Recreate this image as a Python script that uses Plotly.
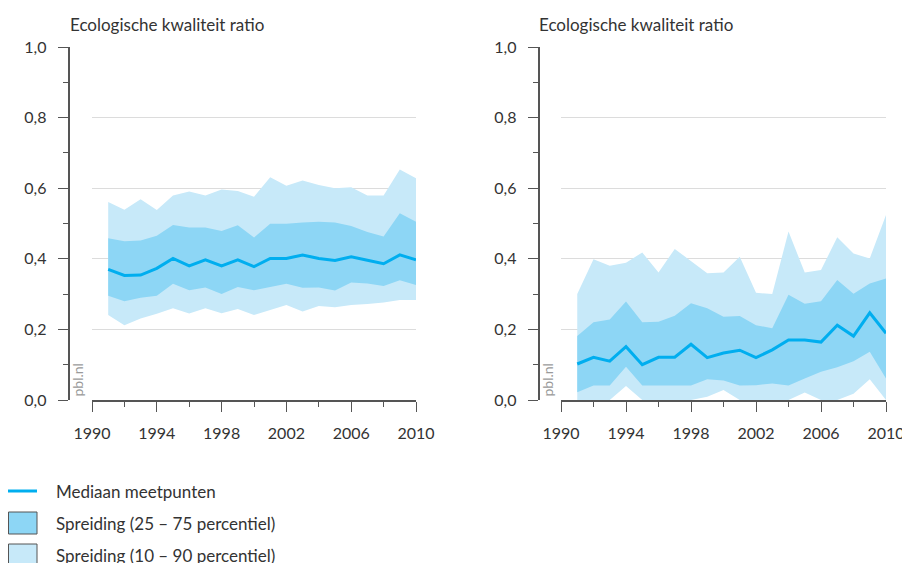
import plotly.graph_objects as go

# Years of measurement
years = list(range(1991, 2011))

# Left panel: percentiles of the ecological quality ratio
p10_left = [0.241, 0.212, 0.231, 0.244, 0.260, 0.245, 0.260, 0.246, 0.258, 0.241,
            0.255, 0.269, 0.251, 0.266, 0.263, 0.269, 0.272, 0.276, 0.283, 0.283]
p25_left = [0.295, 0.280, 0.290, 0.295, 0.329, 0.311, 0.319, 0.300, 0.320, 0.311,
            0.320, 0.329, 0.318, 0.319, 0.310, 0.333, 0.330, 0.323, 0.339, 0.326]
median_left = [0.370, 0.353, 0.354, 0.373, 0.401, 0.380, 0.397, 0.380, 0.397, 0.378,
               0.401, 0.401, 0.411, 0.401, 0.395, 0.406, 0.396, 0.386, 0.411, 0.397]
p75_left = [0.458, 0.450, 0.452, 0.465, 0.496, 0.489, 0.489, 0.479, 0.495, 0.460,
            0.499, 0.499, 0.503, 0.505, 0.503, 0.493, 0.476, 0.463, 0.529, 0.505]
p90_left = [0.561, 0.539, 0.569, 0.538, 0.579, 0.591, 0.579, 0.596, 0.592, 0.576,
            0.631, 0.607, 0.622, 0.609, 0.600, 0.603, 0.579, 0.579, 0.653, 0.628]

# Right panel
p10_right = [0.000, 0.000, 0.000, 0.040, 0.000, 0.000, 0.000, 0.000, 0.009, 0.028,
             0.000, 0.000, 0.000, 0.000, 0.021, 0.000, 0.000, 0.018, 0.059, 0.000]
p25_right = [0.022, 0.041, 0.041, 0.094, 0.041, 0.041, 0.042, 0.041, 0.059, 0.055,
             0.041, 0.042, 0.047, 0.041, 0.061, 0.080, 0.093, 0.110, 0.137, 0.061]
median_right = [0.102, 0.121, 0.110, 0.151, 0.100, 0.121, 0.121, 0.158, 0.120, 0.133,
                0.141, 0.120, 0.142, 0.170, 0.170, 0.164, 0.212, 0.181, 0.247, 0.189]
p75_right = [0.181, 0.220, 0.228, 0.279, 0.220, 0.222, 0.239, 0.274, 0.260, 0.236,
             0.238, 0.212, 0.203, 0.298, 0.273, 0.280, 0.340, 0.301, 0.330, 0.344]
p90_right = [0.300, 0.399, 0.380, 0.389, 0.418, 0.361, 0.428, 0.394, 0.359, 0.361,
             0.406, 0.304, 0.300, 0.477, 0.361, 0.368, 0.461, 0.415, 0.401, 0.524]

# Text
axis_title = "Ecologische kwaliteit ratio"
legend_labels = ["Mediaan meetpunten",
                 "Spreiding (25 \u2013 75 percentiel)",
                 "Spreiding (10 \u2013 90 percentiel)"]
source_label = "pbl.nl"

# Styling
W, H = 902, 563
FONT = "Lato"
TEXT = "#333333"
AXIS = "#555555"
GRID = "#dcdcdc"
MEDIAN = "#00aeef"
BAND_IQR = "#8dd6f5"
BAND_WIDE = "#c7e9f9"


def px(x):
    return x / W


def py(y):
    return 1 - y / H


fig = go.Figure()


def add_panel(xa, ya, p10, p25, med, p75, p90):
    common = dict(x=years, xaxis=xa, yaxis=ya, mode="lines",
                  showlegend=False, hoverinfo="skip")
    fig.add_trace(go.Scatter(y=p10, line=dict(width=0, color=BAND_WIDE), **common))
    fig.add_trace(go.Scatter(y=p90, fill="tonexty", fillcolor=BAND_WIDE,
                             line=dict(width=0, color=BAND_WIDE), **common))
    fig.add_trace(go.Scatter(y=p25, line=dict(width=0, color=BAND_IQR), **common))
    fig.add_trace(go.Scatter(y=p75, fill="tonexty", fillcolor=BAND_IQR,
                             line=dict(width=0, color=BAND_IQR), **common))
    fig.add_trace(go.Scatter(y=med, line=dict(width=3, color=MEDIAN), **common))


add_panel("x", "y", p10_left, p25_left, median_left, p75_left, p90_left)
add_panel("x2", "y2", p10_right, p25_right, median_right, p75_right, p90_right)

y_dom = [py(400), py(47)]


def xaxis_style(domain, anchor):
    return dict(domain=domain, anchor=anchor, range=[1990, 2010],
                tickmode="linear", tick0=1990, dtick=4,
                ticks="outside", ticklen=10, tickwidth=1.3, tickcolor=AXIS,
                minor=dict(dtick=2, tick0=1990, ticks="outside", ticklen=5,
                           tickwidth=1.3, tickcolor=AXIS, showgrid=False),
                showline=True, linecolor=AXIS, linewidth=1.5,
                showgrid=False, zeroline=False, ticklabelstandoff=8,
                ticklabeloverflow="allow", automargin=False,
                tickfont=dict(family=FONT, size=16, color=TEXT))


def yaxis_style(position):
    return dict(domain=y_dom, anchor="free", position=position, range=[0, 1],
                tickmode="linear", tick0=0, dtick=0.2, tickformat=".1f",
                ticks="outside", ticklen=10, tickwidth=1.3, tickcolor=AXIS,
                minor=dict(dtick=0.1, tick0=0, ticks="outside", ticklen=5,
                           tickwidth=1.3, tickcolor=AXIS, showgrid=False),
                showline=True, linecolor=AXIS, linewidth=1.5,
                showgrid=True, gridcolor=GRID, gridwidth=1, zeroline=False,
                ticklabelstandoff=8, automargin=False,
                tickfont=dict(family=FONT, size=16, color=TEXT))


annotations = []
for x0 in (68, 537):
    annotations.append(dict(text=axis_title, x=px(x0), y=py(24), xref="paper",
                            yref="paper", xanchor="left", yanchor="middle",
                            showarrow=False,
                            font=dict(family=FONT, size=17, color=TEXT)))
for xc in (77, 547):
    annotations.append(dict(text=source_label, x=px(xc), y=py(399), xref="paper",
                            yref="paper", xanchor="center", yanchor="bottom",
                            textangle=-90, showarrow=False,
                            font=dict(family=FONT, size=14, color="#9a9a9a")))

# Legend rows
rows_y = [491, 523, 555]
for label, yc in zip(legend_labels, rows_y):
    annotations.append(dict(text=label, x=px(54), y=py(yc), xref="paper",
                            yref="paper", xanchor="left", yanchor="middle",
                            showarrow=False,
                            font=dict(family=FONT, size=17, color=TEXT)))

shapes = [
    dict(type="line", xref="paper", yref="paper", x0=px(8), x1=px(37),
         y0=py(rows_y[0]), y1=py(rows_y[0]), line=dict(color=MEDIAN, width=3)),
    dict(type="rect", xref="paper", yref="paper", x0=px(8.5), x1=px(37),
         y0=py(rows_y[1] - 11), y1=py(rows_y[1] + 11),
         fillcolor=BAND_IQR, line=dict(color=AXIS, width=1)),
    dict(type="rect", xref="paper", yref="paper", x0=px(8.5), x1=px(37),
         y0=py(rows_y[2] - 11), y1=py(rows_y[2] + 11),
         fillcolor=BAND_WIDE, line=dict(color=AXIS, width=1)),
]

fig.update_layout(
    width=W, height=H, autosize=False,
    margin=dict(l=0, r=0, t=0, b=0, autoexpand=False),
    paper_bgcolor="white", plot_bgcolor="white",
    separators=", ",
    showlegend=False,
    xaxis=xaxis_style([px(92), px(416)], "y"),
    yaxis=yaxis_style(px(68.5)),
    xaxis2=xaxis_style([px(561), px(886)], "y2"),
    yaxis2=yaxis_style(px(538.5)),
    annotations=annotations,
    shapes=shapes,
)

fig.write_html("out.html")
